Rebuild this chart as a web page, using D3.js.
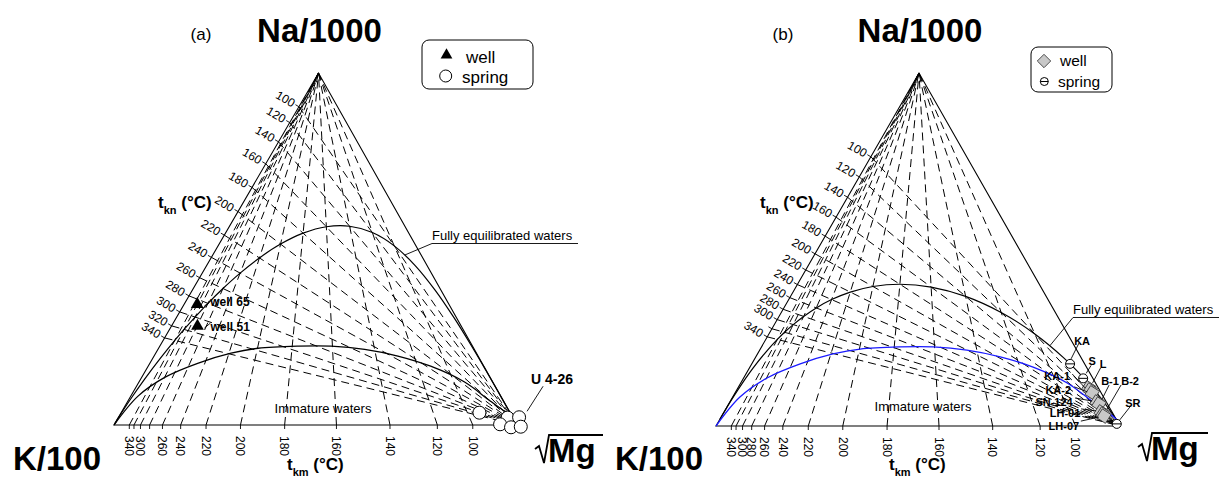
<!DOCTYPE html>
<html>
<head>
<meta charset="utf-8">
<script src="https://cdn.jsdelivr.net/npm/d3@7"></script>
<style>
body { margin: 0; background: #fff; }
svg { display: block; }
text { font-family: Arial, "Liberation Sans", sans-serif; }
</style>
</head>
<body>
<script>
//Width and height
var w = 1221;
var h = 477;

// isotherm temperatures (°C)
var knTemps = [100, 120, 140, 160, 180, 200, 220, 240, 260, 280, 300, 320, 340];
var kmTemps = [100, 120, 140, 160, 180, 200, 220, 240, 260, 280, 300, 320, 340];

// tick labels actually printed
var knLabelsA = [100, 120, 140, 160, 180, 200, 220, 240, 260, 280, 300, 320, 340];
var kmLabelsA = [100, 120, 140, 160, 180, 200, 220, 240, 260, 300, 340];
var knLabelsB = [100, 120, 140, 160, 180, 200, 220, 240, 260, 280, 300, 340];
var kmLabelsB = [100, 120, 140, 160, 180, 200, 220, 240, 260, 280, 300, 340];

// temperatures along the full equilibrium curve
var eqTemps = [-150, -120, -100, -80, -60, -40, -20, 0, 20, 40, 60, 80, 100, 120, 140, 160,
               180, 200, 220, 240, 260, 280, 300, 320, 340, 380, 450, 550, 700, 1000, 1600, 3000];

// immature waters boundary (% Na/1000 and % sqrt(Mg))
var immNa = [0, 8.2, 13.6, 17.6, 20.4, 21.8, 22.4, 22.4, 21.5, 19.6, 16.7, 12.2, 6.8, 1.7, 0];
var immMg = [0, 1.8, 5.8, 12.0, 18.7, 24.7, 34.3, 42.5, 51.3, 60.5, 70.1, 80.8, 89.9, 98.4, 100];

// panel (a) samples, % of Na/1000 + K/100 + sqrt(Mg)
var wellNamesA = ["well 65", "well 51"];
var wellNaA = [34.6, 28.4];
var wellKA = [62.3, 65.3];
var wellMgA = [3.1, 6.3];
var springNaA = [3.5, 2.1, 2.2, 0.2, -0.65, -0.48];
var springKA = [7.6, 1.3, -1.6, 4.1, 1.8, -0.7];
var springMgA = [88.9, 96.6, 99.4, 95.7, 98.8, 101.2];

// panel (b) samples
var wellNamesB = ["L", "KA-1", "KA-2", "SN-124", "B-1", "LH-01", "B-2", "LH-07"];
var wellNaB = [10.8, 10.2, 9.4, 6.8, 6.2, 4.0, 3.4, 2.8];
var wellKB = [2.4, 2.3, 2.2, 2.3, 2.1, 2.7, 2.5, 2.6];
var wellMgB = [86.8, 87.5, 88.4, 90.9, 91.7, 93.3, 94.1, 94.6];
var springNamesB = ["KA", "S", "SR"];
var springNaB = [17.6, 13.5, 0.6];
var springKB = [3.6, 2.4, 0.5];
var springMgB = [78.8, 84.1, 98.9];

// geothermometers
function giggNaK(T) { return 1390 / (T + 273.15) - 1.75; }   // log(Na/K), Giggenbach
function arnNaK(T) { return 933 / (T + 273.15) - 0.993; }    // log(Na/K), Arnorsson
function giggKMg(T) { return 14.0 - 4410 / (T + 273.15); }  // log(K2/Mg)

// label placement (offsets from the point)
var labelPosB = {
    "KA": { t: [12, -23], l: [9, -21, 1, -5] },
    "S": { t: [9, -17], l: [8, -13, 3, -5] },
    "SR": { t: [16, -21], l: [14, -18, 3, -4] },
    "L": { t: [14.5, -24], l: [12, -20, 4, -5] },
    "B-1": { t: [11, -23], l: [10, -19, 3, -5] },
    "B-2": { t: [27, -33], l: [18, -29, 4, -5] },
    "KA-1": { t: [-33, -14], l: [-18, -16, -5, -2] },
    "KA-2": { t: [-34, -3], l: [-18, -6, -5, -1] },
    "SN-124": { t: [-43, 0], l: [-22, -4, -5, -1] },
    "LH-01": { t: [-36, 1], l: [-20, -3, -5, -1] },
    "LH-07": { t: [-40, 10], l: [-23, 5, -5, 1] }
};

//Create SVG element
var svg = d3.select("body")
    .append("svg")
    .attr("width", w)
    .attr("height", h);

var lineGen = d3.line().curve(d3.curveCatmullRom.alpha(0.5));

function drawPanel(P) {
    var g = svg.append("g");
    var L = P.L, A = P.A, R = P.R;
    var f = (A[0] - L[0]) / (R[0] - L[0]);
    var x = d3.scaleLinear().domain([0, 1]).range([L[0], R[0]]);
    var y = d3.scaleLinear().domain([0, 1]).range([L[1], A[1]]);

    function proj(na, k, mg) {
        var s = na + k + mg, a = na / s, m = mg / s;
        return [x(m + a * f), y(a)];
    }
    function eqPoint(T) {
        return proj(Math.pow(10, P.naK(T)) / 1000, 0.01, Math.pow(10, -giggKMg(T) / 2));
    }
    function knPoint(T) { return proj(Math.pow(10, P.naK(T)) / 1000, 0.01, 0); }
    function kmPoint(T) { return proj(0, 0.01, Math.pow(10, -giggKMg(T) / 2)); }

    // dashed isotherms
    knTemps.forEach(function(T) {
        var p = knPoint(T);
        g.append("line")
            .attr("x1", p[0]).attr("y1", p[1])
            .attr("x2", R[0]).attr("y2", R[1])
            .attr("stroke", "#000").attr("stroke-width", 1)
            .attr("stroke-dasharray", "8,5");
    });
    kmTemps.forEach(function(T) {
        var p = kmPoint(T);
        g.append("line")
            .attr("x1", p[0]).attr("y1", p[1])
            .attr("x2", A[0]).attr("y2", A[1])
            .attr("stroke", "#000").attr("stroke-width", 1)
            .attr("stroke-dasharray", "8,5");
    });

    // triangle
    g.append("path")
        .attr("d", "M" + L + "L" + A + "L" + R + "Z")
        .attr("fill", "none").attr("stroke", "#000").attr("stroke-width", 1.1);

    // left edge ticks + labels
    var ex = A[0] - L[0], ey = A[1] - L[1], el = Math.hypot(ex, ey);
    var nx = ey / el, ny = -ex / el;
    var ang = Math.atan2(-ny, -nx) * 180 / Math.PI;
    knTemps.forEach(function(T) {
        var p = knPoint(T);
        g.append("line")
            .attr("x1", p[0]).attr("y1", p[1])
            .attr("x2", p[0] + nx * 4).attr("y2", p[1] + ny * 4)
            .attr("stroke", "#000").attr("stroke-width", 0.9);
    });
    P.knLabels.forEach(function(T) {
        var p = knPoint(T);
        var lx = p[0] + nx * 5.5, ly = p[1] + ny * 5.5;
        g.append("text")
            .attr("transform", "translate(" + lx + "," + ly + ") rotate(" + ang + ")")
            .attr("text-anchor", "end")
            .attr("dy", "0.35em")
            .attr("font-size", "12px")
            .text(T);
    });

    // bottom ticks + labels
    kmTemps.forEach(function(T) {
        var p = kmPoint(T);
        g.append("line")
            .attr("x1", p[0]).attr("y1", p[1])
            .attr("x2", p[0]).attr("y2", p[1] + 4)
            .attr("stroke", "#000").attr("stroke-width", 0.9);
    });
    P.kmLabels.forEach(function(T) {
        var p = kmPoint(T);
        g.append("text")
            .attr("transform", "translate(" + p[0] + "," + (p[1] + 11) + ") rotate(90)")
            .attr("text-anchor", "start")
            .attr("dy", "0.35em")
            .attr("font-size", "12px")
            .text(T);
    });

    // full equilibrium curve
    g.append("path")
        .attr("d", lineGen(eqTemps.map(eqPoint)))
        .attr("fill", "none").attr("stroke", "#000").attr("stroke-width", 1.2);

    // immature waters line
    var immPts = immNa.map(function(na, i) {
        return proj(na, 100 - na - immMg[i], immMg[i]);
    });
    g.append("path")
        .attr("d", lineGen(immPts))
        .attr("fill", "none").attr("stroke", P.miColor).attr("stroke-width", 1.3);

    // annotations
    var q = eqPoint(90);
    var fe = P.feText;
    g.append("text").attr("x", fe[0]).attr("y", fe[1])
        .attr("font-size", "13px").text("Fully equilibrated waters");
    g.append("path")
        .attr("d", "M" + q + "L" + [fe[0], fe[1] + 3.5] + "L" + [fe[0] + 146, fe[1] + 3.5])
        .attr("fill", "none").attr("stroke", "#000").attr("stroke-width", 0.9);
    g.append("text").attr("x", P.imText[0]).attr("y", P.imText[1])
        .attr("text-anchor", "middle").attr("font-size", "13px").text("Immature waters");

    // titles
    g.append("text").attr("x", P.tag[0]).attr("y", P.tag[1])
        .attr("text-anchor", "middle").attr("font-size", "17px").text(P.tagText);
    g.append("text").attr("x", A[0] + 1).attr("y", 42)
        .attr("text-anchor", "middle").attr("font-size", "33px").attr("font-weight", "bold")
        .text("Na/1000");
    g.append("text").attr("x", L[0] - 101).attr("y", 470)
        .attr("font-size", "33px").attr("font-weight", "bold").text("K/100");
    g.append("path")
        .attr("d", "M" + (R[0] + 18) + "," + (P.mgY - 13) + "l4,-3l5,17l5,-28h" + (P.mgBar))
        .attr("fill", "none").attr("stroke", "#000").attr("stroke-width", 1.8);
    g.append("text").attr("x", R[0] + 31).attr("y", P.mgY)
        .attr("font-size", "33px").attr("font-weight", "bold").text("Mg");

    // axis titles
    var tkn = g.append("text").attr("x", L[0] + 44).attr("y", 208)
        .attr("font-size", "17px").attr("font-weight", "bold");
    tkn.append("tspan").text("t");
    tkn.append("tspan").attr("dy", 6).attr("font-size", "11px").text("kn");
    tkn.append("tspan").attr("dy", -6).text(" (°C)");
    var tkm = g.append("text").attr("x", L[0] + 173).attr("y", 470)
        .attr("font-size", "17px").attr("font-weight", "bold");
    tkm.append("tspan").text("t");
    tkm.append("tspan").attr("dy", 6).attr("font-size", "11px").text("km");
    tkm.append("tspan").attr("dy", -6).text(" (°C)");

    return proj;
}

// ---------- panel (a)
var projA = drawPanel({
    L: [114, 425], A: [318.5, 73], R: [517, 425],
    naK: giggNaK, knLabels: knLabelsA, kmLabels: kmLabelsA,
    miColor: "#000", feText: [432, 240], imText: [323, 412.5],
    tag: [201, 40], tagText: "(a)", mgY: 462, mgBar: 54
});

var gA = svg.append("g");
wellNamesA.forEach(function(name, i) {
    var p = projA(wellNaA[i], wellKA[i], wellMgA[i]);
    gA.append("path")
        .attr("d", d3.symbol().type(d3.symbolTriangle).size(70)())
        .attr("transform", "translate(" + p[0] + "," + (p[1] + 1) + ")")
        .attr("fill", "#000");
    gA.append("line")
        .attr("x1", p[0] + 7).attr("y1", p[1] + 3)
        .attr("x2", p[0] + 13).attr("y2", p[1] - 2)
        .attr("stroke", "#000").attr("stroke-width", 0.9);
    gA.append("text")
        .attr("x", p[0] + 13).attr("y", p[1] + 3 + i * 2.5)
        .attr("font-size", "12px").attr("font-weight", "bold")
        .text(name);
});
springNaA.forEach(function(na, i) {
    var p = projA(na, springKA[i], springMgA[i]);
    gA.append("circle")
        .attr("cx", p[0]).attr("cy", p[1]).attr("r", 6.5)
        .attr("fill", "#fff").attr("stroke", "#000").attr("stroke-width", 1);
});
var u = projA(springNaA[2], springKA[2], springMgA[2]);
gA.append("line")
    .attr("x1", u[0] + 24).attr("y1", u[1] - 31)
    .attr("x2", u[0] + 8).attr("y2", u[1] - 6)
    .attr("stroke", "#000").attr("stroke-width", 0.9);
gA.append("text")
    .attr("x", u[0] + 33).attr("y", u[1] - 33)
    .attr("text-anchor", "middle")
    .attr("font-size", "14px").attr("font-weight", "bold")
    .text("U 4-26");

// legend (a)
gA.append("rect")
    .attr("x", 422).attr("y", 40).attr("width", 111).attr("height", 49).attr("rx", 7)
    .attr("fill", "#fff").attr("stroke", "#000").attr("stroke-width", 1);
gA.append("path")
    .attr("d", d3.symbol().type(d3.symbolTriangle).size(60)())
    .attr("transform", "translate(446.5,55)").attr("fill", "#000");
gA.append("text").attr("x", 466).attr("y", 62.5).attr("font-size", "17px").text("well");
gA.append("circle").attr("cx", 445.7).attr("cy", 76).attr("r", 6)
    .attr("fill", "#fff").attr("stroke", "#000");
gA.append("text").attr("x", 462).attr("y", 82.5).attr("font-size", "17px").text("spring");

// ---------- panel (b)
var projB = drawPanel({
    L: [716, 426], A: [919, 73], R: [1120, 426],
    naK: arnNaK, knLabels: knLabelsB, kmLabels: kmLabelsB,
    miColor: "#1a1aff", feText: [1073, 314], imText: [923, 411],
    tag: [783, 40], tagText: "(b)", mgY: 460, mgBar: 56
});

var gB = svg.append("g");
function labelB(name, p) {
    var lp = labelPosB[name];
    gB.append("line")
        .attr("x1", p[0] + lp.l[0]).attr("y1", p[1] + lp.l[1])
        .attr("x2", p[0] + lp.l[2]).attr("y2", p[1] + lp.l[3])
        .attr("stroke", "#000").attr("stroke-width", 0.9);
    gB.append("text")
        .attr("x", p[0] + lp.t[0]).attr("y", p[1] + lp.t[1] + 4)
        .attr("text-anchor", "middle")
        .attr("font-size", "11px").attr("font-weight", "bold")
        .text(name);
}
wellNamesB.forEach(function(name, i) {
    var p = projB(wellNaB[i], wellKB[i], wellMgB[i]);
    gB.append("path")
        .attr("d", d3.symbol().type(d3.symbolSquare).size(110)())
        .attr("transform", "translate(" + p[0] + "," + p[1] + ") rotate(33)")
        .attr("fill", "#c8c8c8").attr("stroke", "#333").attr("stroke-width", 0.8);
});
springNamesB.forEach(function(name, i) {
    var p = projB(springNaB[i], springKB[i], springMgB[i]);
    gB.append("circle")
        .attr("cx", p[0]).attr("cy", p[1]).attr("r", 4.5)
        .attr("fill", "#fff").attr("stroke", "#000").attr("stroke-width", 1);
    gB.append("line")
        .attr("x1", p[0] - 4.5).attr("y1", p[1]).attr("x2", p[0] + 4.5).attr("y2", p[1])
        .attr("stroke", "#000").attr("stroke-width", 1);
});
wellNamesB.forEach(function(name, i) {
    labelB(name, projB(wellNaB[i], wellKB[i], wellMgB[i]));
});
springNamesB.forEach(function(name, i) {
    labelB(name, projB(springNaB[i], springKB[i], springMgB[i]));
});

// legend (b)
gB.append("rect")
    .attr("x", 1031).attr("y", 47).attr("width", 81).attr("height", 45).attr("rx", 7)
    .attr("fill", "#fff").attr("stroke", "#000").attr("stroke-width", 1);
gB.append("path")
    .attr("d", d3.symbol().type(d3.symbolSquare).size(90)())
    .attr("transform", "translate(1044,61) rotate(45)")
    .attr("fill", "#c8c8c8").attr("stroke", "#333").attr("stroke-width", 0.8);
gB.append("text").attr("x", 1060).attr("y", 66).attr("font-size", "15.5px").text("well");
gB.append("circle").attr("cx", 1044.3).attr("cy", 81.5).attr("r", 4)
    .attr("fill", "#fff").attr("stroke", "#000");
gB.append("line").attr("x1", 1040.3).attr("y1", 81.5).attr("x2", 1048.3).attr("y2", 81.5)
    .attr("stroke", "#000");
gB.append("text").attr("x", 1058).attr("y", 87).attr("font-size", "15.5px").text("spring");
</script>
</body>
</html>
